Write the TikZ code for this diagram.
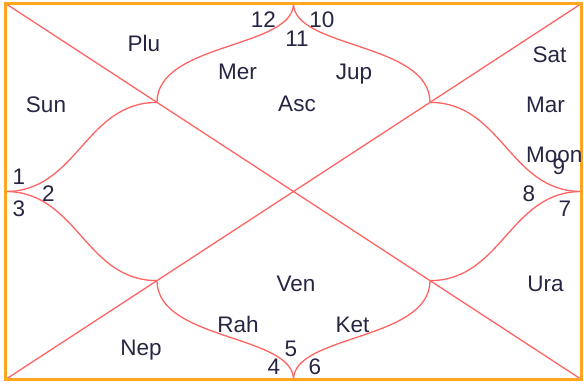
\documentclass[tikz,border=0pt]{standalone}
\usepackage{fontspec}
\setmainfont{Liberation Sans}
\definecolor{framecol}{RGB}{255,165,30}
\definecolor{chartline}{RGB}{255,100,100}
\definecolor{txt}{RGB}{38,38,68}
\begin{document}
\begin{tikzpicture}[x=1pt,y=-1pt,
  lbl/.style={anchor=base, inner sep=0pt, text=txt, font=\fontsize{22.5}{27}\selectfont},
  chart/.style={draw=chartline, line width=1.3pt},
  frm/.style={draw=framecol, line width=2.6pt}]
\useasboundingbox (0,0) rectangle (584,385);
% corners and cusps
\coordinate (TL) at (5.5,3.5);
\coordinate (TR) at (581.5,3.5);
\coordinate (BL) at (5.5,379.5);
\coordinate (BR) at (581.5,379.5);
\coordinate (T) at (293.5,3.5);
\coordinate (B) at (293.5,379.5);
\coordinate (L) at (5.5,191.5);
\coordinate (R) at (581.5,191.5);
\coordinate (P1) at (157,102.4);
\coordinate (P2) at (430,102.4);
\coordinate (P3) at (157,280.6);
\coordinate (P4) at (430,280.6);
% diagonals
\draw[chart] (TL) -- (BR);
\draw[chart] (TR) -- (BL);
% curves
\draw[chart] (T) .. controls +(0,45) and +(0,-60) .. (P1);
\draw[chart] (T) .. controls +(0,45) and +(0,-60) .. (P2);
\draw[chart] (B) .. controls +(0,-45) and +(0,60) .. (P3);
\draw[chart] (B) .. controls +(0,-45) and +(0,60) .. (P4);
\draw[chart] (L) .. controls +(72,0) and +(-72,0) .. (P1);
\draw[chart] (L) .. controls +(72,0) and +(-72,0) .. (P3);
\draw[chart] (R) .. controls +(-72,0) and +(72,0) .. (P2);
\draw[chart] (R) .. controls +(-72,0) and +(72,0) .. (P4);
% frame
\draw[frm] (TL) rectangle (BR);
% labels
\node[lbl] (plu) at (144,52) {Plu};
\node[lbl] (sun) at (46,112.5) {Sun};
\node[lbl] (mer) at (237.5,80) {Mer};
\node[lbl] (jup) at (354,80) {Jup};
\node[lbl] (asc) at (297,112) {Asc};
\node[lbl] (h12) at (263.5,28) {12};
\node[lbl] (h10) at (322,28) {10};
\node[lbl] (h11) at (297,46.5) {11};
\node[lbl] (sat) at (549.5,63) {Sat};
\node[lbl] (mar) at (545.5,112.5) {Mar};
\node[lbl, anchor=base west] (moon) at (526,162.5) {Moon};
\node[lbl] (h9) at (559,174.5) {9};
\node[lbl] (h8) at (529,201.5) {8};
\node[lbl] (h7) at (565,216.5) {7};
\node[lbl] (h1) at (19,184.5) {1};
\node[lbl] (h2) at (48.5,201.5) {2};
\node[lbl] (h3) at (19,216.5) {3};
\node[lbl] (ura) at (545.5,291.5) {Ura};
\node[lbl] (ven) at (296,291.5) {Ven};
\node[lbl] (rah) at (238,332.5) {Rah};
\node[lbl] (ket) at (352.5,332.5) {Ket};
\node[lbl] (nep) at (141,355.5) {Nep};
\node[lbl] (h5) at (291,356.5) {5};
\node[lbl] (h4) at (274,374.5) {4};
\node[lbl] (h6) at (315,374.5) {6};
\end{tikzpicture}
\end{document}
